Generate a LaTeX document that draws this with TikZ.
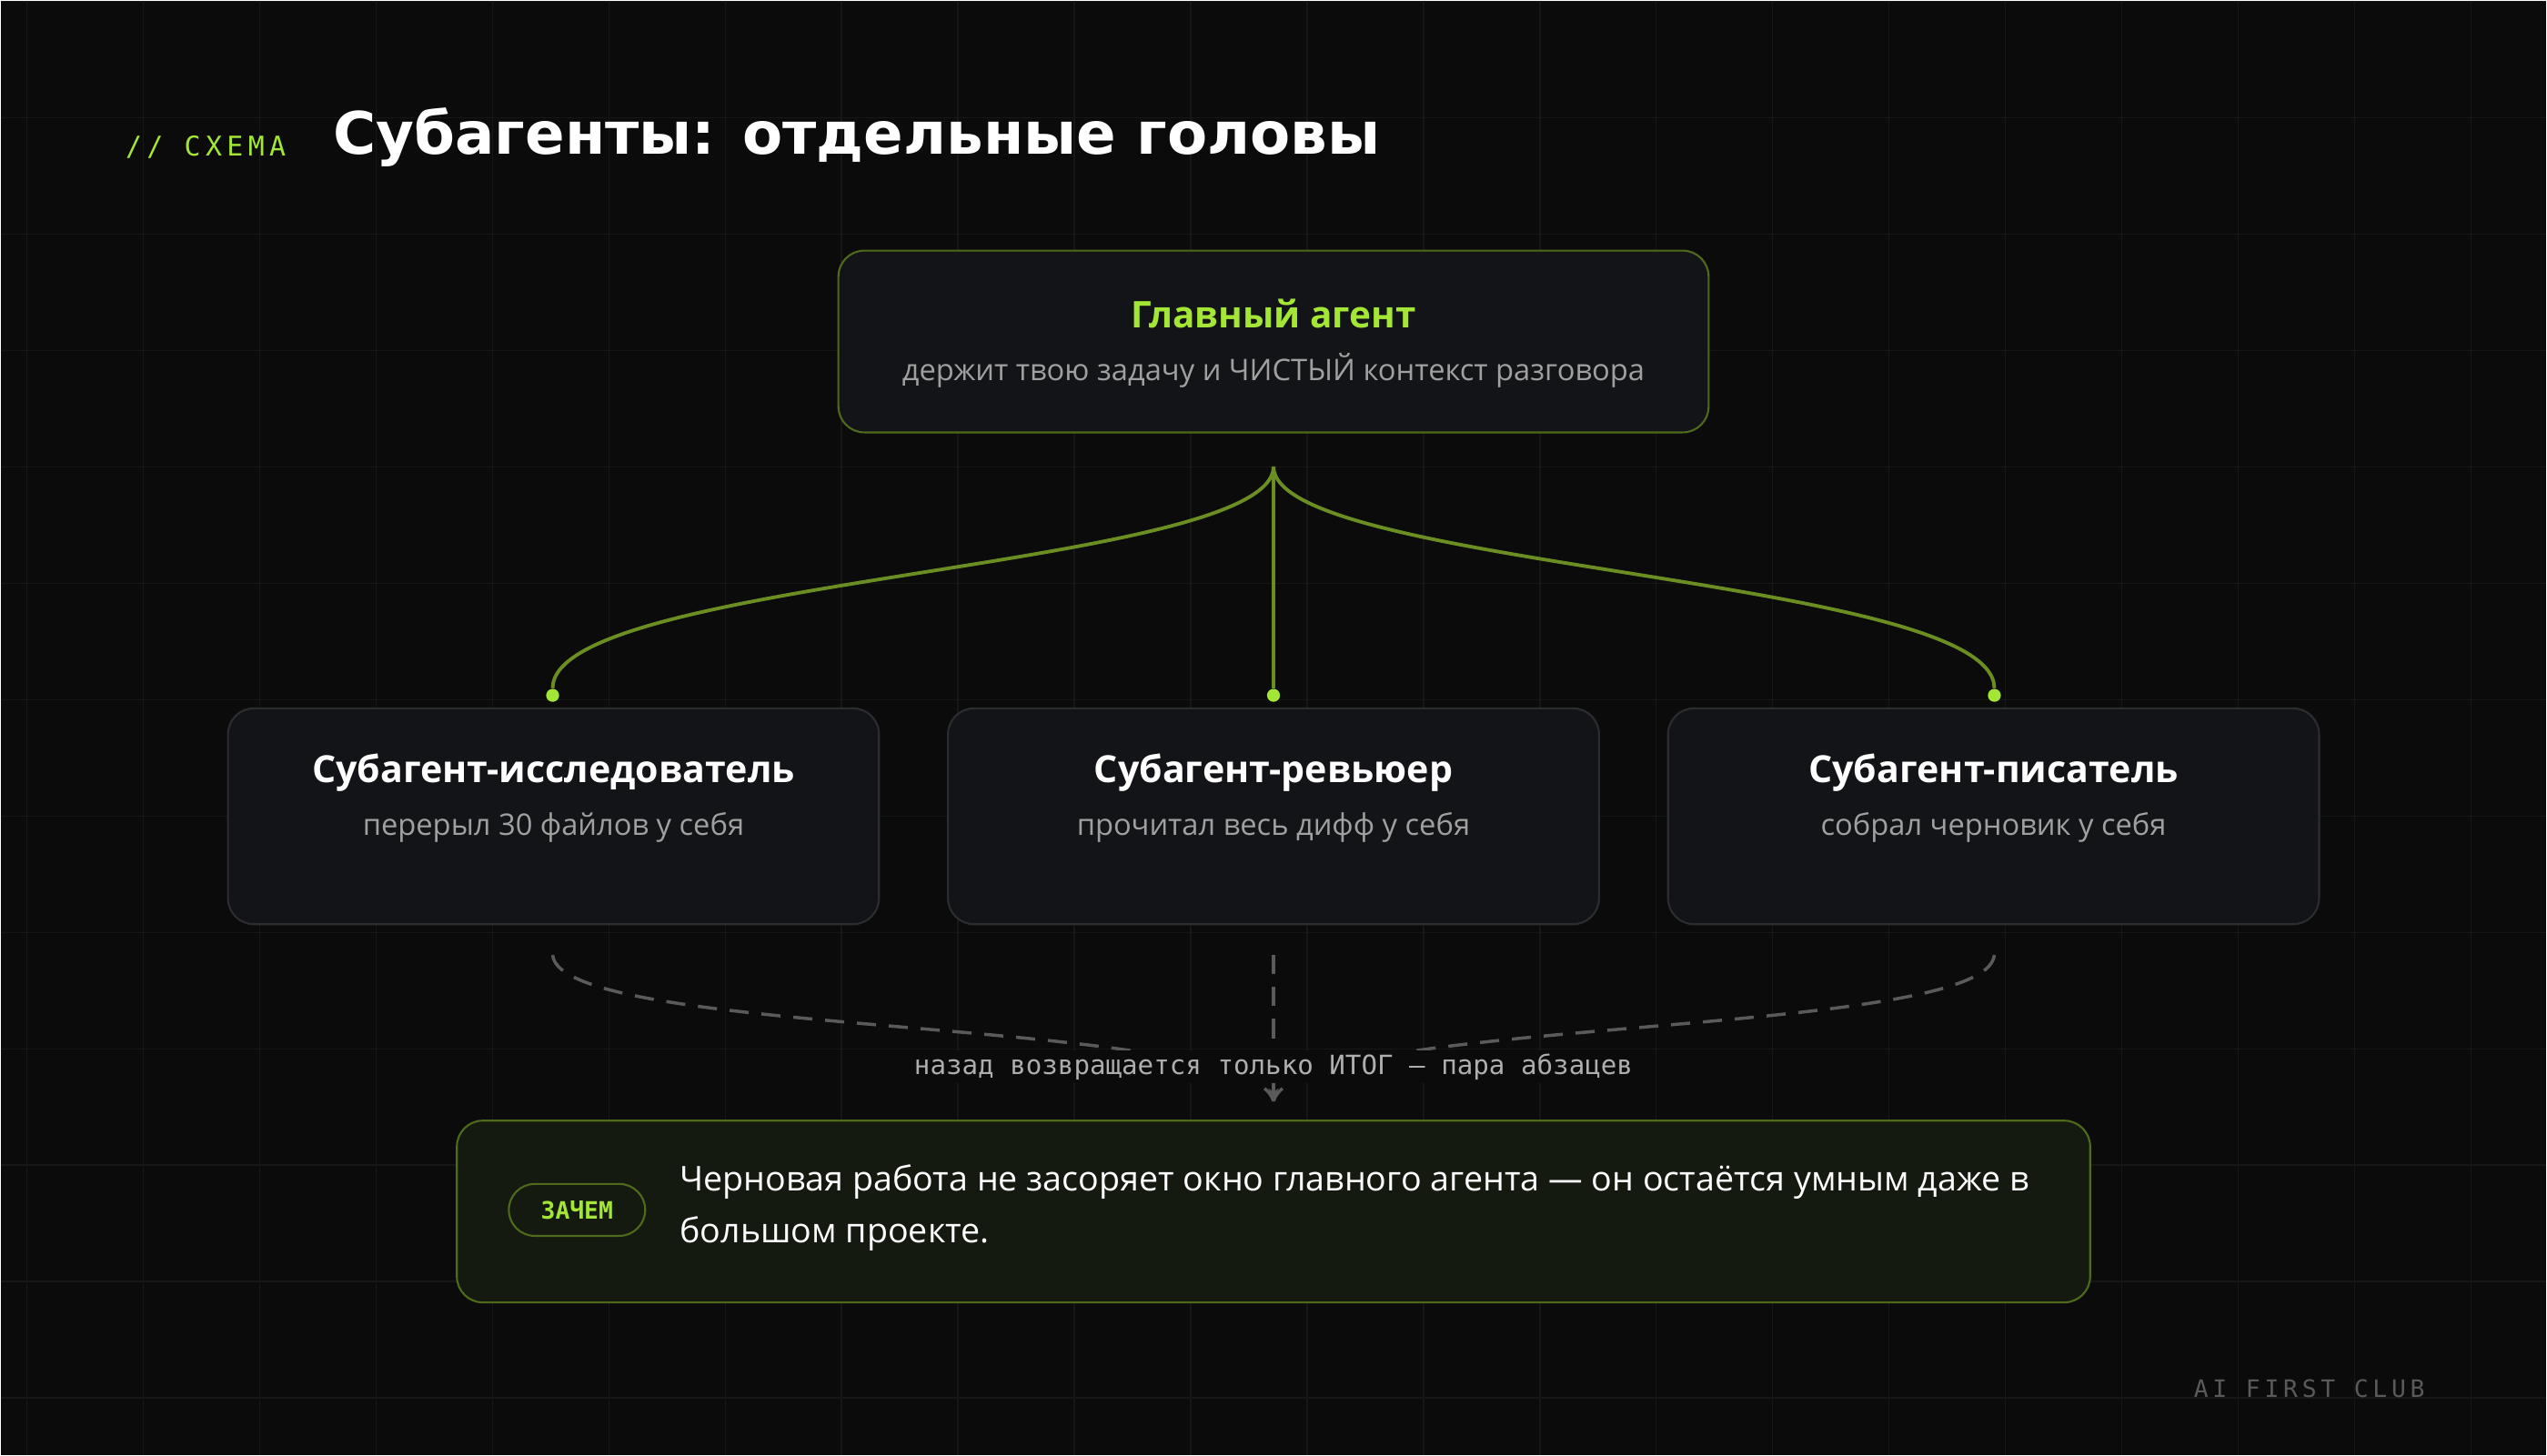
\documentclass[tikz,border=0pt]{standalone}
\usepackage{fontspec}
\setmainfont{Open Sans}
\newfontfamily\headfont{DejaVu Sans}
\newfontfamily\monofont[LetterSpace=18]{DejaVu Sans Mono}
\newfontfamily\labfont{DejaVu Sans Mono}
\usetikzlibrary{arrows.meta,positioning}
\definecolor{bg}{HTML}{0B0B0B}
\definecolor{gridc}{HTML}{161816}
\definecolor{lime}{HTML}{A3E635}
\definecolor{olive}{HTML}{6B8E23}
\definecolor{boxfill}{HTML}{131417}
\definecolor{boxline}{HTML}{2C2D30}
\definecolor{subgray}{HTML}{A0A0A0}
\definecolor{dashc}{HTML}{5A5A5A}
\definecolor{notefill}{HTML}{151A10}
\definecolor{noteline}{HTML}{4D6B1A}
\newcommand{\px}{0.017857cm}
\tikzset{mainbox/.style={draw=noteline,fill=boxfill,rounded corners=16*\px,line width=0.6pt,
        minimum width=536*\px,minimum height=112*\px,align=center},
    subbox/.style={draw=boxline,fill=boxfill,rounded corners=16*\px,line width=0.6pt,
        minimum width=401*\px,minimum height=133*\px,align=center},
    hubline/.style={draw=olive,line width=1.1pt},
    backline/.style={draw=dashc,line width=1pt,dash pattern=on 6pt off 4pt},
    dot/.style={circle,fill=lime,inner sep=0,minimum size=8*\px}}

\begin{document}
\begin{tikzpicture}[x=\px,y=-\px]
\fill[bg] (0,0) rectangle (1568,896);
\foreach \i in {0,...,21} \draw[gridc,line width=0.4pt] (16.2+71.68*\i,0) -- (16.2+71.68*\i,896);
\foreach \i in {0,...,12} \draw[gridc,line width=0.4pt] (0,0.6+71.68*\i) -- (1568,0.6+71.68*\i);

% header
\node (tag) [anchor=west,text=lime,font=\monofont\fontsize{8.5}{10}\selectfont] at (70,90) {// СХЕМА};
\node (title) [anchor=west,text=white,font=\headfont\bfseries\fontsize{18.3}{22}\selectfont] at (198,84) {Субагенты: отдельные головы};

% main agent
\node (main) [mainbox] at (784,210) {};
\node [text=lime,font=\bfseries\fontsize{11.5}{13}\selectfont] at (784,193) {Главный агент};
\node [text=subgray,font=\fontsize{9.3}{11}\selectfont] at (784,228) {держит твою задачу и ЧИСТЫЙ контекст разговора};

% subagents
\node (res) [subbox] at (340.5,502.5) {};
\node (rev) [subbox] at (784,502.5) {};
\node (wri) [subbox] at (1227.5,502.5) {};
\foreach \n/\t/\s in {res/Субагент-исследователь/перерыл 30 файлов у себя,
                      rev/Субагент-ревьюер/прочитал весь дифф у себя,
                      wri/Субагент-писатель/собрал черновик у себя} {
  \node [text=white,font=\bfseries\fontsize{11.7}{13}\selectfont] at ([yshift=-40*\px]\n.north) {\t};
  \node [text=subgray,font=\fontsize{9.3}{11}\selectfont] at ([yshift=-7*\px]\n.center) {\s};
}

% fan-out
\coordinate (hub) at (784,287);
\node (dres) [dot] at (340,428) {};
\node (drev) [dot] at (784,428) {};
\node (dwri) [dot] at (1228,428) {};
\draw [hubline] (hub) .. controls (784,350) and (340,355) .. (dres);
\draw [hubline] (hub) -- (drev);
\draw [hubline] (hub) .. controls (784,350) and (1228,355) .. (dwri);

% results back
\coordinate (bres) at (340,588);
\coordinate (brev) at (784,588);
\coordinate (bwri) at (1228,588);
\coordinate (sink) at (784,678);
\draw [backline] (bres) .. controls (345,640) and (770,625) .. (sink);
\draw [backline] (bwri) .. controls (1223,640) and (798,625) .. (sink);
\draw [backline,-{Stealth[length=4pt,width=3pt]}] (brev) -- (sink);
\node (ret) [fill=bg,inner sep=1pt,text=subgray!85,font=\labfont\fontsize{8.3}{9}\selectfont] at (784,657) {назад возвращается только ИТОГ — пара абзацев};

% note
\node (note) [draw=noteline,fill=notefill,rounded corners=16*\px,line width=0.6pt,
    minimum width=1006*\px,minimum height=112*\px] at (784,746) {};
\node (why) [draw=noteline,rounded corners=16*\px,line width=0.6pt,minimum width=84*\px,minimum height=32*\px,
    text=lime,font=\labfont\bfseries\fontsize{7.5}{9}\selectfont] at (355,745) {ЗАЧЕМ};
\node (text) [anchor=north west,text=white,align=left,inner sep=0,font=\fontsize{10.7}{16}\selectfont]
    at (418,717) {Черновая работа не засоряет окно главного агента — он остаётся умным даже в\\большом проекте.};

\node (club) [anchor=east,text=dashc,font=\monofont\fontsize{7.5}{9}\selectfont] at (1500,855) {AI FIRST CLUB};
\end{tikzpicture}
\end{document}
